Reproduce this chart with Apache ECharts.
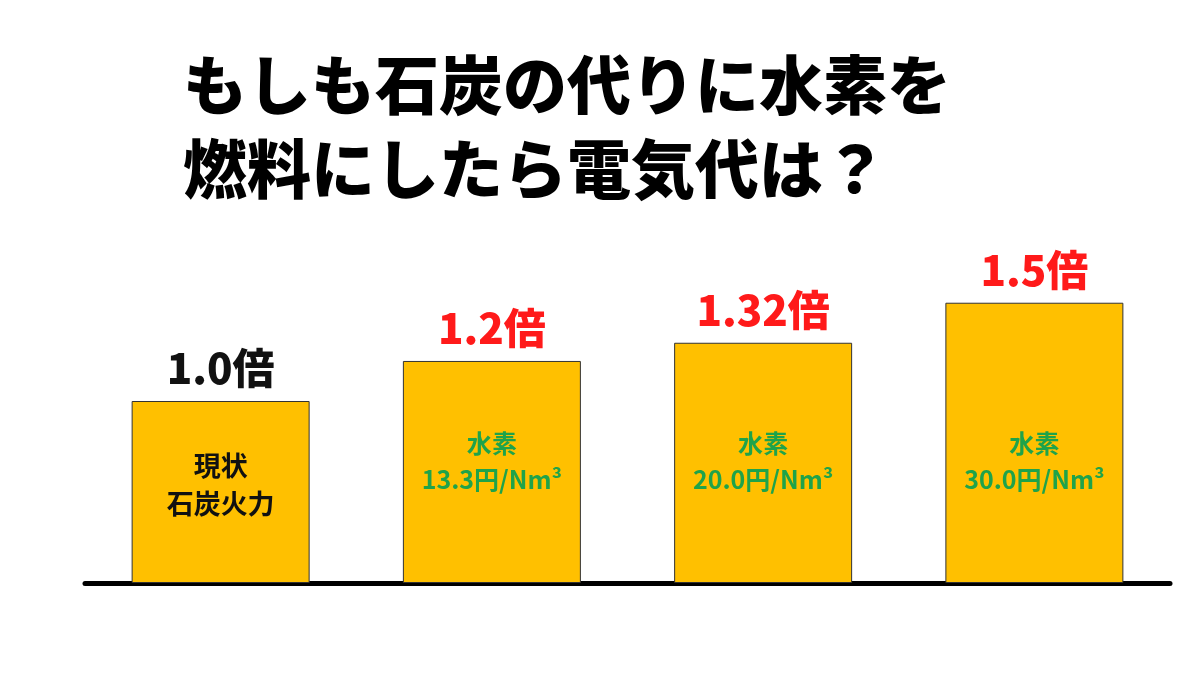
<!DOCTYPE html>
<html><head><meta charset="utf-8">
<script src="https://cdn.jsdelivr.net/npm/echarts@6/dist/echarts.min.js"></script>
<style>html,body{margin:0;background:#fff}#c{width:1200px;height:675px}</style>
</head><body><div id="c"></div>
<script>
const categories = ['現状石炭火力', '水素13.3', '水素20.0', '水素30.0'];
const values = [1.0, 1.22, 1.32, 1.54];
const topLabels = ['1.0倍', '1.2倍', '1.32倍', '1.5倍'];
const innerLabels = ['現状\n石炭火力', '水素\n13.3円/Nm³', '水素\n20.0円/Nm³', '水素\n30.0円/Nm³'];
const topColors = ['#111', '#ff1a1a', '#ff1a1a', '#ff1a1a'];
const innerColors = ['#111', '#1fa34a', '#1fa34a', '#1fa34a'];
const font = '"Noto Sans CJK JP", sans-serif';
const chart = echarts.init(document.getElementById('c'));
chart.setOption({
  backgroundColor: '#fff',
  title: { text: 'もしも石炭の代りに水素を\n燃料にしたら電気代は？', left: 178, top: 38,
    textStyle: { fontFamily: font, fontSize: 64, fontWeight: 900, color: '#000', lineHeight: 84 } },
  grid: { left: 85, right: 30, top: 37, bottom: 92 },
  xAxis: { type: 'category', data: categories, axisLabel: { show: false }, axisTick: { show: false },
    axisLine: { lineStyle: { color: '#000', width: 5 } } },
  yAxis: { type: 'value', min: 0, max: 3, show: false, splitLine: { show: false } },
  series: [{
    type: 'bar', barWidth: 178,
    data: values.map((v, i) => ({
      value: v,
      itemStyle: { color: '#FFC000', borderColor: '#333', borderWidth: 1 },
      label: { show: true, position: 'insideBottom', distance: i === 0 ? 60 : 86, formatter: innerLabels[i], color: innerColors[i],
        fontFamily: font, fontWeight: 'bold', fontSize: i === 0 ? 27 : 25, lineHeight: i === 0 ? 38 : 36 }
    }))
  }, {
    type: 'bar', barWidth: 178, barGap: '-100%', silent: true,
    data: values.map((v, i) => ({
      value: v, itemStyle: { color: 'rgba(0,0,0,0)' },
      label: { show: true, position: 'top', distance: 12, formatter: topLabels[i], color: topColors[i],
        fontFamily: font, fontWeight: 900, fontSize: 42 }
    }))
  }]
});
</script></body></html>
